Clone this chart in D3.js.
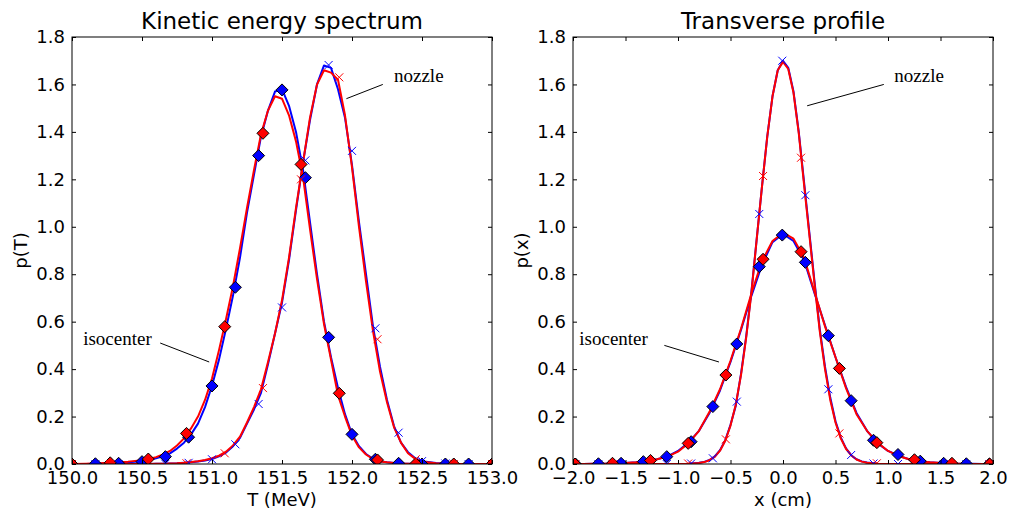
<!DOCTYPE html>
<html><head><meta charset="utf-8">
<script src="https://cdn.jsdelivr.net/npm/d3@7"></script>
<style>body{margin:0;background:#fff}</style>
</head><body>
<svg id="c" width="1011" height="514"></svg>
<script>
// ---------- Kinetic energy spectrum ----------
const energyGrid = [150.0,150.1,150.2,150.3,150.4,150.5,
 150.55,150.6,150.65,150.7,150.75,150.8,150.85,150.9,150.95,151.0,
 151.05,151.1,151.15,151.2,151.25,151.3,151.35,151.4,151.45,151.5,
 151.55,151.6,151.65,151.7,151.75,151.8,151.85,151.9,151.95,152.0,
 152.05,152.1,152.15,152.2,152.25,152.3,152.35,152.4,152.45,152.5,
 152.6,152.7,152.8,152.9,153.0];
const isoBlueT = [0,0,0.002,0.004,0.007,0.012,
 0.017,0.024,0.032,0.045,0.065,0.09,0.125,0.17,0.24,0.33,
 0.44,0.57,0.71,0.87,1.06,1.22,1.38,1.49,1.57,1.58,
 1.51,1.40,1.24,1.02,0.80,0.60,0.45,0.32,0.21,0.125,
 0.075,0.042,0.022,0.012,0.007,0.004,0.002,0.001,0,0,
 0,0,0,0,0];
const isoRedT = [0,0.001,0.003,0.006,0.010,0.016,
 0.021,0.029,0.040,0.055,0.078,0.108,0.15,0.20,0.27,0.36,
 0.48,0.61,0.75,0.91,1.08,1.24,1.39,1.49,1.55,1.54,
 1.47,1.36,1.21,0.99,0.78,0.59,0.44,0.29,0.20,0.12,
 0.07,0.04,0.02,0.011,0.007,0.004,0.002,0.001,0,0,
 0,0,0,0,0];
const nozBlueT = [0,0,0,0,0,0,
 0,0.001,0.001,0.002,0.003,0.005,0.007,0.011,0.015,0.021,
 0.032,0.048,0.075,0.11,0.17,0.23,0.30,0.42,0.55,0.68,
 0.86,1.07,1.27,1.45,1.60,1.68,1.67,1.58,1.46,1.26,
 1.02,0.80,0.58,0.41,0.27,0.16,0.09,0.05,0.025,0.012,
 0.004,0.001,0,0,0];
const nozRedT = [0,0,0,0,0,0,
 0,0.001,0.001,0.002,0.003,0.005,0.008,0.012,0.017,0.024,
 0.035,0.052,0.078,0.115,0.175,0.24,0.315,0.43,0.55,0.69,
 0.87,1.08,1.27,1.46,1.60,1.66,1.65,1.62,1.47,1.25,
 1.00,0.77,0.56,0.39,0.26,0.155,0.09,0.045,0.022,0.01,
 0.003,0,0,0,0];
// marker samples
const blueMarkT = [150.0,150.167,150.333,150.5,150.667,150.833,151.0,151.167,151.333,151.5,151.667,151.833,152.0,152.167,152.333,152.5,152.667,152.833,153.0];
const isoBlueMarkT = [0,0.001,0.003,0.01,0.031,0.113,0.329,0.745,1.30,1.577,1.207,0.534,0.125,0.02,0.003,0,0,0,0];
const nozBlueMarkT = [0,0,0,0,0.001,0.005,0.02,0.083,0.253,0.66,1.28,1.682,1.32,0.572,0.132,0.012,0.002,0,0];
const redMarkT = [150.0,150.273,150.545,150.818,151.091,151.364,151.636,151.909,152.182,152.455,152.727,153.0];
const isoRedMarkT = [0,0.005,0.021,0.129,0.579,1.394,1.263,0.298,0.017,0.001,0,0];
const nozRedMarkT = [0,0,0,0.003,0.045,0.32,1.20,1.63,0.526,0.02,0,0];
const energyTicks = [150.0,150.5,151.0,151.5,152.0,152.5,153.0];

// ---------- Transverse profile ----------
const isoPosGrid = [-2.0,-1.9,-1.8,-1.7,-1.6,-1.5,-1.4,-1.3,-1.2,-1.1,-1.0,-0.9,-0.8,-0.7,-0.6,-0.5,-0.4,-0.3,-0.2,-0.1,
 0,0.1,0.2,0.3,0.4,0.5,0.6,0.7,0.8,0.9,1.0,1.1,1.2,1.3,1.4,1.5,1.6,1.7,1.8,1.9,2.0];
const isoBlueX = [0,0,0.001,0.001,0.002,0.004,0.007,0.012,0.02,0.032,0.055,0.09,0.14,0.215,0.31,0.43,0.565,0.71,0.84,0.935,
 0.97,0.94,0.86,0.72,0.585,0.45,0.325,0.215,0.14,0.088,0.055,0.035,0.02,0.012,0.007,0.004,0.002,0.001,0.001,0,0];
const isoRedX = [0,0,0.001,0.001,0.002,0.004,0.007,0.012,0.02,0.031,0.052,0.088,0.14,0.22,0.315,0.435,0.57,0.72,0.855,0.94,
 0.975,0.95,0.87,0.725,0.58,0.45,0.32,0.21,0.14,0.09,0.055,0.034,0.02,0.012,0.007,0.004,0.002,0.001,0,0,0];
const nozPosGrid = [-2.0,-1.5,-1.2,-1.0,-0.9,-0.8,-0.75,-0.7,-0.65,-0.6,-0.55,-0.5,-0.45,-0.4,-0.35,-0.3,-0.25,-0.2,-0.15,-0.1,-0.05,
 0,0.05,0.1,0.15,0.2,0.25,0.3,0.35,0.4,0.45,0.5,0.55,0.6,0.65,0.7,0.75,0.8,0.9,1.0,1.2,1.5,2.0];
const nozBlueX = [0,0,0,0,0.001,0.005,0.009,0.017,0.032,0.058,0.10,0.165,0.245,0.38,0.54,0.73,0.95,1.17,1.38,1.55,1.66,
 1.70,1.67,1.57,1.40,1.19,0.98,0.77,0.57,0.41,0.28,0.18,0.112,0.066,0.037,0.02,0.011,0.006,0.001,0,0,0,0];
const nozRedX = [0,0,0,0,0.001,0.004,0.008,0.016,0.03,0.056,0.098,0.162,0.25,0.375,0.535,0.725,0.95,1.17,1.38,1.55,1.66,
 1.695,1.665,1.565,1.395,1.18,0.97,0.76,0.56,0.40,0.27,0.175,0.108,0.064,0.036,0.019,0.01,0.005,0.001,0,0,0,0];
const blueMarkX = [-1.977,-1.758,-1.542,-1.33,-1.107,-0.875,-0.668,-0.44,-0.226,-0.007,0.213,0.432,0.649,0.862,1.095,1.307,1.53,1.746,1.965];
const isoBlueMarkX = [0,0.001,0.003,0.01,0.031,0.094,0.242,0.506,0.832,0.965,0.85,0.541,0.267,0.10,0.04,0.012,0.003,0.001,0];
const nozBlueMarkX = [0,0,0,0,0,0.002,0.024,0.263,1.054,1.70,1.133,0.315,0.038,0.002,0,0,0,0,0];
const redMarkX = [-1.98,-1.624,-1.262,-0.903,-0.544,-0.19,0.172,0.537,0.894,1.252,1.609,1.968];
const isoRedMarkX = [0,0.003,0.015,0.087,0.375,0.863,0.895,0.403,0.09,0.018,0.003,0];
const nozRedMarkX = [0,0,0,0.002,0.104,1.214,1.291,0.129,0.003,0,0,0];
const posTicks = [-2.0,-1.5,-1.0,-0.5,0.0,0.5,1.0,1.5,2.0];

const yTicks = [0.0,0.2,0.4,0.6,0.8,1.0,1.2,1.4,1.6,1.8];

const svg = d3.select('#c');
const BLUE = '#0000ff', RED = '#ff0000';
const TOP = 37, BOTTOM = 464;

function panel(o) {
  const g = svg.append('g');
  const x = d3.scaleLinear().domain(o.xDomain).range([o.left, o.right]);
  const y = d3.scaleLinear().domain([0, 1.8]).range([BOTTOM, TOP]);
  const clipId = 'clip' + o.id;
  svg.append('clipPath').attr('id', clipId).append('rect')
    .attr('x', o.left).attr('y', TOP).attr('width', o.right - o.left).attr('height', BOTTOM - TOP);
  const plot = g.append('g').attr('clip-path', `url(#${clipId})`);
  const line = d3.line().x(d => x(d[0])).y(d => y(d[1]));
  o.lines.forEach(s => {
    plot.append('path').datum(d3.zip(s.xs, s.ys))
      .attr('d', line).attr('fill', 'none').attr('stroke', s.color)
      .attr('stroke-width', 2).attr('stroke-linejoin', 'round');
  });
  o.markers.forEach(m => {
    const pts = d3.zip(m.xs, m.ys);
    if (m.type === 'D') {
      const r = 6;
      plot.append('g').selectAll('path').data(pts).join('path')
        .attr('d', d => { const cx = x(d[0]), cy = y(d[1]);
          return `M${cx},${cy - r}L${cx + r},${cy}L${cx},${cy + r}L${cx - r},${cy}Z`; })
        .attr('fill', m.color).attr('stroke', '#000').attr('stroke-width', 1);
    } else {
      const r = 4;
      plot.append('g').selectAll('path').data(pts).join('path')
        .attr('d', d => { const cx = x(d[0]), cy = y(d[1]);
          return `M${cx - r},${cy - r}L${cx + r},${cy + r}M${cx - r},${cy + r}L${cx + r},${cy - r}`; })
        .attr('fill', 'none').attr('stroke', m.color).attr('stroke-width', 1);
    }
  });
  const fmt = d3.format('.1f');
  g.append('g').attr('transform', `translate(0,${BOTTOM})`)
    .call(d3.axisBottom(x).tickValues(o.xTicks).tickFormat(fmt).tickSizeInner(-4).tickSizeOuter(0).tickPadding(7));
  g.append('g').attr('transform', `translate(0,${TOP})`)
    .call(d3.axisTop(x).tickValues(o.xTicks).tickFormat('').tickSizeInner(-4).tickSizeOuter(0));
  g.append('g').attr('transform', `translate(${o.left},0)`)
    .call(d3.axisLeft(y).tickValues(yTicks).tickFormat(fmt).tickSizeInner(-4).tickSizeOuter(0).tickPadding(7));
  g.append('g').attr('transform', `translate(${o.right},0)`)
    .call(d3.axisRight(y).tickValues(yTicks).tickFormat('').tickSizeInner(-4).tickSizeOuter(0));
  g.selectAll('.domain').remove();
  g.selectAll('.tick line').attr('stroke', '#000').attr('stroke-width', 1);
  g.selectAll('.tick text').attr('font-family', 'DejaVu Sans').attr('font-size', 18).attr('fill', '#000');
  g.append('rect').attr('x', o.left).attr('y', TOP).attr('width', o.right - o.left).attr('height', BOTTOM - TOP)
    .attr('fill', 'none').attr('stroke', '#000').attr('stroke-width', 1);
  const cx = (o.left + o.right) / 2;
  g.append('text').attr('x', cx).attr('y', 29).attr('text-anchor', 'middle')
    .attr('font-family', 'DejaVu Sans').attr('font-size', 23).text(o.title);
  g.append('text').attr('x', cx).attr('y', 506).attr('text-anchor', 'middle')
    .attr('font-family', 'DejaVu Sans').attr('font-size', 18).text(o.xlabel);
  g.append('text').attr('transform', `translate(${o.left - 45},${(TOP + BOTTOM) / 2}) rotate(-90)`)
    .attr('text-anchor', 'middle').attr('font-family', 'DejaVu Sans').attr('font-size', 18).text(o.ylabel);
  o.notes.forEach(n => {
    g.append('line').attr('x1', x(n.x1)).attr('y1', y(n.y1)).attr('x2', x(n.x2)).attr('y2', y(n.y2))
      .attr('stroke', '#000').attr('stroke-width', 1);
    g.append('text').attr('x', x(n.tx)).attr('y', y(n.ty)).attr('text-anchor', n.anchor)
      .attr('font-family', 'Liberation Serif').attr('font-size', 19).text(n.text);
  });
}

panel({
  id: 'L', left: 72, right: 492, xDomain: [150, 153], xTicks: energyTicks,
  title: 'Kinetic energy spectrum', xlabel: 'T (MeV)', ylabel: 'p(T)',
  lines: [
    {xs: energyGrid, ys: isoBlueT, color: BLUE},
    {xs: energyGrid, ys: nozBlueT, color: BLUE},
    {xs: energyGrid, ys: isoRedT, color: RED},
    {xs: energyGrid, ys: nozRedT, color: RED}
  ],
  markers: [
    {xs: blueMarkT, ys: isoBlueMarkT, color: BLUE, type: 'D'},
    {xs: blueMarkT, ys: nozBlueMarkT, color: BLUE, type: 'x'},
    {xs: redMarkT, ys: isoRedMarkT, color: RED, type: 'D'},
    {xs: redMarkT, ys: nozRedMarkT, color: RED, type: 'x'}
  ],
  notes: [
    {x1: 151.96, y1: 1.54, x2: 152.22, y2: 1.60, tx: 152.30, ty: 1.61, anchor: 'start', text: 'nozzle'},
    {x1: 150.63, y1: 0.51, x2: 150.98, y2: 0.43, tx: 150.08, ty: 0.50, anchor: 'start', text: 'isocenter'}
  ]
});

panel({
  id: 'R', left: 573, right: 993, xDomain: [-2, 2], xTicks: posTicks,
  title: 'Transverse profile', xlabel: 'x (cm)', ylabel: 'p(x)',
  lines: [
    {xs: isoPosGrid, ys: isoBlueX, color: BLUE},
    {xs: nozPosGrid, ys: nozBlueX, color: BLUE},
    {xs: isoPosGrid, ys: isoRedX, color: RED},
    {xs: nozPosGrid, ys: nozRedX, color: RED}
  ],
  markers: [
    {xs: blueMarkX, ys: isoBlueMarkX, color: BLUE, type: 'D'},
    {xs: blueMarkX, ys: nozBlueMarkX, color: BLUE, type: 'x'},
    {xs: redMarkX, ys: isoRedMarkX, color: RED, type: 'D'},
    {xs: redMarkX, ys: nozRedMarkX, color: RED, type: 'x'}
  ],
  notes: [
    {x1: 0.23, y1: 1.51, x2: 0.96, y2: 1.60, tx: 1.06, ty: 1.61, anchor: 'start', text: 'nozzle'},
    {x1: -1.13, y1: 0.50, x2: -0.61, y2: 0.43, tx: -1.94, ty: 0.50, anchor: 'start', text: 'isocenter'}
  ]
});
</script>
</body></html>
